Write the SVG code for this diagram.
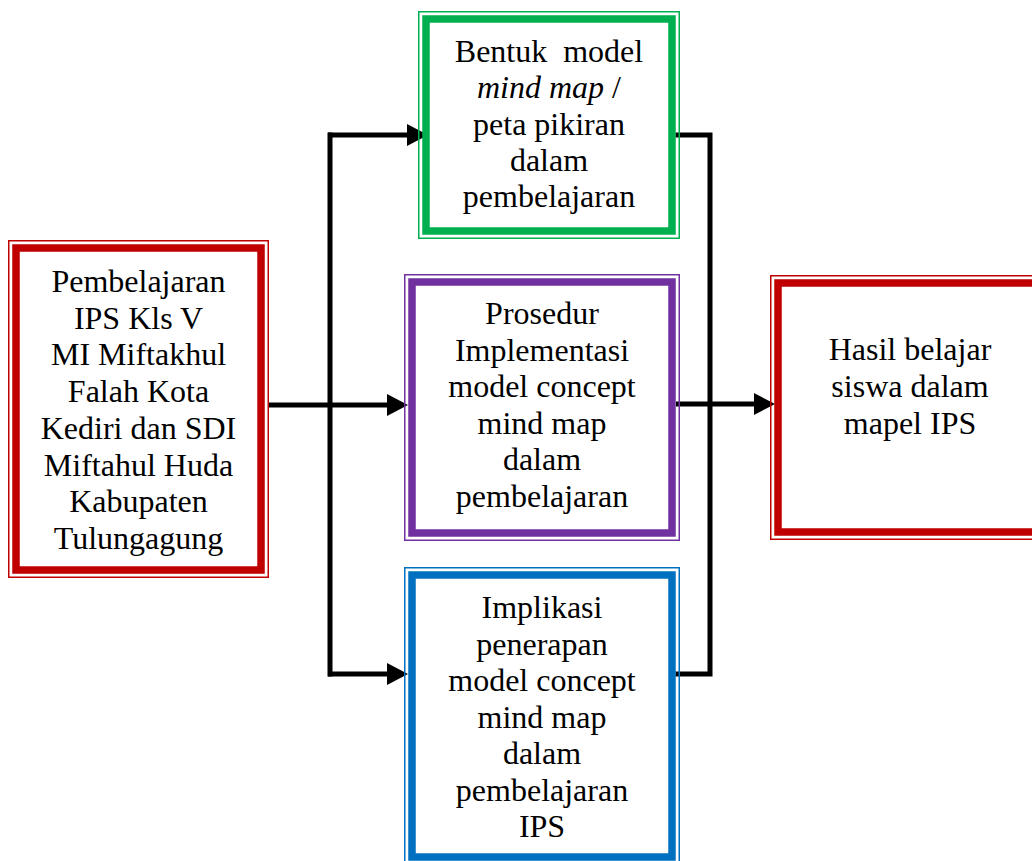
<svg xmlns="http://www.w3.org/2000/svg" width="1032" height="861" viewBox="0 0 1032 861">
<defs>
<style>
.thin{fill:none;stroke-width:1.5}
.thick{fill:none;stroke-width:7.5}
.red{stroke:#C00000}
.green{stroke:#00B050}
.purple{stroke:#7030A0}
.blue{stroke:#0070C0}
text{font-family:"Liberation Serif","Times New Roman",serif;font-size:32px;fill:#000;text-anchor:middle}
.conn{fill:none;stroke:#000;stroke-width:5;stroke-linecap:square}
.arr{fill:none;stroke:#000;stroke-width:5}
</style>
<marker id="ah" markerUnits="userSpaceOnUse" markerWidth="22" markerHeight="22" refX="10" refY="11" orient="auto">
<path d="M0,0 L21,11 L0,22 z" fill="#000"/>
</marker>
</defs>
<rect width="1032" height="861" fill="#fff"/>
<g id="connectors">
<path class="arr" d="M268,405 H397" marker-end="url(#ah)"/>
<path class="conn" d="M330,135 V674"/>
<path class="arr" d="M328,135 H417" marker-end="url(#ah)"/>
<path class="arr" d="M328,674 H397" marker-end="url(#ah)"/>
<path class="conn" d="M678,135 H710 V674 H678"/>
<path class="arr" d="M676,404 H764" marker-end="url(#ah)"/>
</g>
<g id="node-left">
<rect class="thin red" x="8.75" y="240.75" width="259.5" height="336.5"/>
<rect class="thick red" x="16" y="248" width="245" height="322"/>
<text x="138.5" y="292">Pembelajaran</text>
<text x="138.5" y="328.7">IPS Kls V</text>
<text x="138.5" y="365.4">MI Miftakhul</text>
<text x="138.5" y="402.1">Falah Kota</text>
<text x="138.5" y="438.8">Kediri dan SDI</text>
<text x="138.5" y="475.5">Miftahul Huda</text>
<text x="138.5" y="512.2">Kabupaten</text>
<text x="138.5" y="549">Tulungagung</text>
</g>
<g id="node-bentuk">
<rect class="thin green" x="418.75" y="11.75" width="260.5" height="226.5"/>
<rect class="thick green" x="426" y="19" width="246" height="212"/>
<text x="549" y="62" xml:space="preserve">Bentuk  model</text>
<text x="549" y="98.25"><tspan font-style="italic">mind map</tspan> /</text>
<text x="549" y="134.5">peta pikiran</text>
<text x="549" y="170.75">dalam</text>
<text x="549" y="207">pembelajaran</text>
</g>
<g id="node-prosedur">
<rect class="thin purple" x="404.75" y="274.75" width="274.5" height="265.5"/>
<rect class="thick purple" x="412" y="282" width="260" height="251"/>
<text x="542" y="324">Prosedur</text>
<text x="542" y="360.6">Implementasi</text>
<text x="542" y="397.2">model concept</text>
<text x="542" y="433.8">mind map</text>
<text x="542" y="470.4">dalam</text>
<text x="542" y="507">pembelajaran</text>
</g>
<g id="node-implikasi">
<rect class="thin blue" x="404.75" y="567.75" width="274.5" height="296.5"/>
<rect class="thick blue" x="412" y="575" width="260" height="282"/>
<text x="542" y="618">Implikasi</text>
<text x="542" y="654.5">penerapan</text>
<text x="542" y="691">model concept</text>
<text x="542" y="727.5">mind map</text>
<text x="542" y="764">dalam</text>
<text x="542" y="800.5">pembelajaran</text>
<text x="542" y="837">IPS</text>
</g>
<g id="node-hasil">
<rect class="thin red" x="770.75" y="275.75" width="300" height="263.5"/>
<rect class="thick red" x="778" y="283" width="300" height="249"/>
<text x="910" y="360">Hasil belajar</text>
<text x="910" y="397">siswa dalam</text>
<text x="910" y="434">mapel IPS</text>
</g>
</svg>
